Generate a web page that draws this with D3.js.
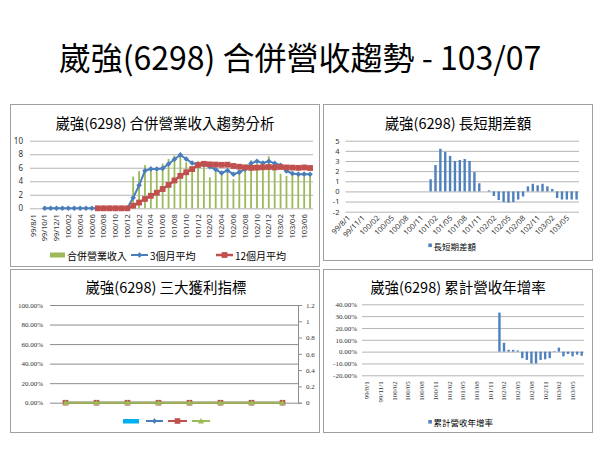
<!DOCTYPE html>
<html><head><meta charset="utf-8">
<script src="https://cdn.jsdelivr.net/npm/d3@7"></script>
<style>
body{margin:0;background:#fff;}
svg{display:block;}
text{font-family:"Noto Sans CJK TC","Noto Sans",sans-serif;}
</style></head><body>
<svg id="c" width="600" height="450"></svg>
<script>
// ---------- DATA ----------
const months = ["99/08","99/09","99/10","99/11","99/12",
 "100/01","100/02","100/03","100/04","100/05","100/06","100/07","100/08","100/09","100/10","100/11","100/12",
 "101/01","101/02","101/03","101/04","101/05","101/06","101/07","101/08","101/09","101/10","101/11","101/12",
 "102/01","102/02","102/03","102/04","102/05","102/06","102/07","102/08","102/09","102/10","102/11","102/12",
 "103/01","103/02","103/03","103/04","103/05","103/06","103/07"];

// top-left: 合併營業收入 / 3個月平均 / 12個月平均
const revenue = [0,0,0,0,0, 0,0,0,0,0,0,0,0,0,0,0,0,
 4.7,5.5,6.4,5.7,5.4,6.6,7.3,7.8,8.2,6.8,5.6,7.0,
 6.8,4.6,6.0,5.4,5.5,4.3,5.6,6.3,7.1,6.6,6.4,7.7,
 6.1,5.1,4.8,5.1,5.0,4.7,5.0];
const avg3 = [null,null,0,0,0, 0,0,0,0,0,0,0,0,0,0,0,0,
 1.57,3.40,5.55,5.83,5.80,5.90,6.55,7.25,7.90,7.30,6.70,6.45,
 6.50,6.15,5.75,5.22,5.60,5.03,5.35,5.80,6.65,6.97,6.70,6.97,
 6.65,6.37,5.53,5.15,5.05,5.05,5.03];
const avg12 = [null,null,null,null,null, null,null,null,null,null,null,0,0,0,0,0,0,
 0.39,0.85,1.38,1.85,2.30,2.85,3.46,4.12,4.80,5.33,5.80,6.41,
 6.58,6.50,6.47,6.43,6.45,6.26,6.15,6.06,5.98,6.02,6.07,6.11,
 6.04,6.11,6.05,6.02,5.98,6.04,5.96];
const tlTickAt = ["99/08","99/10","99/12","100/02","100/04","100/06","100/08","100/10","100/12",
 "101/02","101/04","101/06","101/08","101/10","101/12","102/02","102/04","102/06","102/08","102/10","102/12",
 "103/02","103/04","103/06"];
const tlTickLabels = ["99/8/1","99/10/1","99/12/1","100/02","100/04","100/06","100/08","100/10","100/12",
 "101/02","101/04","101/06","101/08","101/10","101/12","102/02","102/04","102/06","102/08","102/10","102/12",
 "103/02","103/04","103/06"];
const tlYTicks = [0,2,4,6,8,10];

// top-right: 長短期差額
const diff = [0,0,0,0,0, 0,0,0,0,0,0,0,0,0,0,0,0,
 1.2,2.6,4.2,3.9,3.5,3.0,3.1,3.2,3.0,1.9,0.8,0.0,
 0.1,-0.45,-0.85,-1.05,-1.1,-1.05,-0.8,-0.5,0.5,0.75,0.6,0.75,
 0.5,0.25,-0.65,-0.8,-0.8,-0.8,-0.8];
const qTickAt = ["99/08","99/11","100/02","100/05","100/08","100/11","101/02","101/05","101/08","101/11",
 "102/02","102/05","102/08","102/11","103/02","103/05"];
const qTickLabels = ["99/8/1","99/11/1","100/02","100/05","100/08","100/11","101/02","101/05","101/08","101/11",
 "102/02","102/05","102/08","102/11","103/02","103/05"];
const trYTicks = [-2,-1,0,1,2,3,4,5];

// bottom-right: 累計營收年增率 (%)
const cumYoY = [null,null,null,null,null, null,null,null,null,null,null,null,null,null,null,null,null,
 null,null,null,null,null,null,null,null,null,null,null,null,
 33,7.5,1.5,1.5,1.0,-5.5,-7,-10,-10,-7,-6.5,-5.5,
 0.5,3.4,-4,-2,-4,-2.5,-3.5];
const brYTicks = [-20,-10,0,10,20,30,40];

// bottom-left: 三大獲利指標
const blCats = ["1","2","3","4","5","6","7","8"];
const blBar = [0,0,0,0,0,0,0,0];
const blBlue = [0,0,0,0,0,0,0,0];
const blRed = [0,0,0,0,0,0,0,0];
const blGreen = [0,0,0,0,0,0,0,0];
const blLeftTicks = [0,0.2,0.4,0.6,0.8,1.0];
const blRightTicks = [0,0.2,0.4,0.6,0.8,1,1.2];

// ---------- DRAW ----------
const svg = d3.select("#c");
const BLUE="#4a7ebb", RED="#c0504d", GREEN="#9bbb59", BAR="#4f81bd";
const GRID="#b4b4b4";

// frames
[[10.5,104.5,309,162],[323.5,104.5,269,156],[10.5,269.5,309,163],[323.5,269.5,269,163]].forEach(r=>{
  svg.append("rect").attr("x",r[0]).attr("y",r[1]).attr("width",r[2]).attr("height",r[3])
    .attr("fill","none").attr("stroke","#a0a0a0").attr("stroke-width",1);
});

svg.append("text").attr("x",300).attr("y",56).attr("text-anchor","middle").attr("dominant-baseline","central")
  .attr("font-size",32).attr("fill","#000").text("崴強(6298) 合併營收趨勢 - 103/07");

function title(x,y,t){
  svg.append("text").attr("x",x).attr("y",y).attr("text-anchor","middle").attr("dominant-baseline","central")
    .attr("font-size",14.5).attr("fill","#000").text(t);
}
function diamond(g,x,y,r,c){ g.append("path").attr("d",`M${x},${y-r}L${x+r},${y}L${x},${y+r}L${x-r},${y}Z`).attr("fill",c); }
function square(g,x,y,r,c){ g.append("rect").attr("x",x-r).attr("y",y-r).attr("width",2*r).attr("height",2*r).attr("fill",c); }
function triangle(g,x,y,r,c){ g.append("path").attr("d",`M${x},${y-r}L${x+r},${y+r*0.8}L${x-r},${y+r*0.8}Z`).attr("fill",c); }

function gridAxis(g, scale, ticks, x0, x1, fmt, fsize, family, color, pad){
  const ax = d3.axisLeft(scale).tickValues(ticks).tickSize(-(x1-x0)).tickPadding(pad).tickFormat(fmt);
  const a = g.append("g").attr("transform",`translate(${x0},0)`).call(ax);
  a.select(".domain").remove();
  a.selectAll("line").attr("stroke",color).attr("stroke-width",1);
  a.selectAll("text").attr("font-size",fsize).attr("fill","#333").style("font-family",family);
  return a;
}

// ===== TOP-LEFT =====
(function(){
  title(165,122,"崴強(6298) 合併營業收入趨勢分析");
  const g = svg.append("g");
  const x = d3.scaleBand().domain(months).range([30,313]);
  const y = d3.scaleLinear().domain([0,10]).range([208.3,140.7]);
  const cx = m => x(m)+x.bandwidth()/2;
  gridAxis(g,y,tlYTicks,30,313,d=>d,8,"Noto Sans",GRID,7);
  const xa = g.append("g").attr("transform","translate(0,208.3)")
    .call(d3.axisBottom(x).tickValues(tlTickAt).tickSize(0).tickFormat((d,i)=>tlTickLabels[i]));
  xa.select(".domain").remove();
  xa.selectAll("text").attr("transform","rotate(-90)").attr("x",-6).attr("y",0).attr("dy","0.35em")
    .style("text-anchor","end").attr("font-size",7.5).attr("fill","#333").style("font-family","Noto Sans");
  // bars
  g.selectAll(".rb").data(months.map((m,i)=>({m,v:revenue[i]})).filter(d=>d.v>0)).enter().append("rect")
    .attr("x",d=>cx(d.m)-0.9).attr("width",1.8).attr("y",d=>y(d.v)).attr("height",d=>y(0)-y(d.v)).attr("fill",GREEN);
  // 3-month
  const p3 = months.map((m,i)=>({m,v:avg3[i]})).filter(d=>d.v!=null);
  g.append("path").datum(p3).attr("d",d3.line().x(d=>cx(d.m)).y(d=>y(d.v)))
    .attr("fill","none").attr("stroke",BLUE).attr("stroke-width",2);
  p3.forEach(d=>diamond(g,cx(d.m),y(d.v),2.8,BLUE));
  // 12-month
  const p12 = months.map((m,i)=>({m,v:avg12[i]})).filter(d=>d.v!=null);
  g.append("path").datum(p12).attr("d",d3.line().x(d=>cx(d.m)).y(d=>y(d.v)))
    .attr("fill","none").attr("stroke",RED).attr("stroke-width",2.5);
  p12.forEach(d=>square(g,cx(d.m),y(d.v),2.9,RED));
  // legend
  const ly=255;
  g.append("rect").attr("x",50).attr("y",ly-2.5).attr("width",15).attr("height",5).attr("fill",GREEN);
  g.append("text").attr("x",67).attr("y",ly).attr("dominant-baseline","central").attr("font-size",10).text("合併營業收入");
  g.append("line").attr("x1",131).attr("x2",148).attr("y1",ly).attr("y2",ly).attr("stroke",BLUE).attr("stroke-width",2);
  diamond(g,139.5,ly,2.8,BLUE);
  g.append("text").attr("x",150).attr("y",ly).attr("dominant-baseline","central").attr("font-size",10).text("3個月平均");
  g.append("line").attr("x1",216).attr("x2",233).attr("y1",ly).attr("y2",ly).attr("stroke",RED).attr("stroke-width",2.5);
  square(g,224.5,ly,2.9,RED);
  g.append("text").attr("x",235).attr("y",ly).attr("dominant-baseline","central").attr("font-size",10).text("12個月平均");
})();

// ===== TOP-RIGHT =====
(function(){
  title(458,122,"崴強(6298) 長短期差額");
  const g = svg.append("g");
  const x = d3.scaleBand().domain(months).range([345.5,579]);
  const y = d3.scaleLinear().domain([-2,5]).range([211.7,140.7]);
  const cx = m => x(m)+x.bandwidth()/2;
  gridAxis(g,y,trYTicks,345.5,579,d=>d,7.5,"Noto Sans",GRID,6);
  const xa = g.append("g").attr("transform","translate(0,211.7)")
    .call(d3.axisBottom(x).tickValues(qTickAt).tickSize(0).tickFormat((d,i)=>qTickLabels[i]));
  xa.select(".domain").remove();
  xa.selectAll("text").attr("transform","translate(1,5) rotate(-45)").attr("x",0).attr("y",0).attr("dy","0.35em")
    .style("text-anchor","end").attr("font-size",7.5).attr("fill","#333").style("font-family","Noto Sans");
  g.selectAll(".db").data(months.map((m,i)=>({m,v:diff[i]})).filter(d=>d.v!==0)).enter().append("rect")
    .attr("x",d=>cx(d.m)-1.2).attr("width",2.4)
    .attr("y",d=>Math.min(y(d.v),y(0))).attr("height",d=>Math.abs(y(0)-y(d.v))).attr("fill",BAR);
  g.append("rect").attr("x",428.3).attr("y",243.5).attr("width",3.6).attr("height",3.6).attr("fill",BAR);
  g.append("text").attr("x",433.5).attr("y",245.5).attr("dominant-baseline","central").attr("font-size",8.5).text("長短期差額");
})();

// ===== BOTTOM-LEFT =====
(function(){
  title(166,286,"崴強(6298) 三大獲利指標");
  const g = svg.append("g");
  const x = d3.scaleBand().domain(blCats).range([50,298]);
  const yl = d3.scaleLinear().domain([0,1]).range([402.7,305]);
  const yr = d3.scaleLinear().domain([0,1.2]).range([402.7,305]);
  const cx = c => x(c)+x.bandwidth()/2;
  gridAxis(g,yl,blLeftTicks,50,298,d3.format(".2%"),7,"Liberation Serif","#8c8c8c",7);
  const ra = g.append("g").attr("transform","translate(298,0)")
    .call(d3.axisRight(yr).tickValues(blRightTicks).tickSize(4).tickPadding(4).tickFormat(d=>d));
  ra.select(".domain").attr("stroke","#8c8c8c");
  ra.selectAll("line").attr("stroke","#8c8c8c");
  ra.selectAll("text").attr("font-size",7).attr("fill","#333").style("font-family","Liberation Serif");
  // bar series (zero)
  g.selectAll(".bb").data(blCats.map((c,i)=>({c,v:blBar[i]}))).enter().append("rect")
    .attr("x",d=>cx(d.c)-6).attr("width",12).attr("y",d=>yl(d.v)).attr("height",d=>yl(0)-yl(d.v)).attr("fill","#00b0f0");
  const series = [[blBlue,BLUE,diamond,2.8,2],[blRed,RED,square,2.8,2],[blGreen,GREEN,triangle,3,2]];
  series.forEach(([vals,col,mk,r,w])=>{
    const pts = blCats.map((c,i)=>({c,v:vals[i]}));
    g.append("path").datum(pts).attr("d",d3.line().x(d=>cx(d.c)).y(d=>yr(d.v)))
      .attr("fill","none").attr("stroke",col).attr("stroke-width",w);
    pts.forEach(d=>mk(g,cx(d.c),yr(d.v),r,col));
  });
  const ly=421;
  g.append("rect").attr("x",123).attr("y",ly-2).attr("width",16).attr("height",4.5).attr("fill","#00b0f0");
  g.append("line").attr("x1",146).attr("x2",163).attr("y1",ly).attr("y2",ly).attr("stroke",BLUE).attr("stroke-width",2);
  diamond(g,154.5,ly,2.8,BLUE);
  g.append("line").attr("x1",168).attr("x2",187).attr("y1",ly).attr("y2",ly).attr("stroke",RED).attr("stroke-width",2);
  square(g,177.5,ly,2.8,RED);
  g.append("line").attr("x1",192).attr("x2",210).attr("y1",ly).attr("y2",ly).attr("stroke",GREEN).attr("stroke-width",2);
  triangle(g,201,ly,3,GREEN);
})();

// ===== BOTTOM-RIGHT =====
(function(){
  title(458,286,"崴強(6298) 累計營收年增率");
  const g = svg.append("g");
  const x = d3.scaleBand().domain(months).range([364.6,584]);
  const y = d3.scaleLinear().domain([-20,40]).range([375.3,304.3]);
  const cx = m => x(m)+x.bandwidth()/2;
  gridAxis(g,y,brYTicks,362,584,d=>d.toFixed(2)+"%",7,"Liberation Serif",GRID,5);
  const xa = g.append("g").attr("transform","translate(0,375.3)")
    .call(d3.axisBottom(x).tickValues(qTickAt).tickSize(0).tickFormat((d,i)=>qTickLabels[i]));
  xa.select(".domain").remove();
  xa.selectAll("text").attr("transform","rotate(-90)").attr("x",-6).attr("y",0).attr("dy","0.35em")
    .style("text-anchor","end").attr("font-size",7).attr("fill","#333").style("font-family","Liberation Serif");
  g.selectAll(".yb").data(months.map((m,i)=>({m,v:cumYoY[i]})).filter(d=>d.v!=null)).enter().append("rect")
    .attr("x",d=>cx(d.m)-1.2).attr("width",2.4)
    .attr("y",d=>Math.min(y(d.v),y(0))).attr("height",d=>Math.abs(y(0)-y(d.v))).attr("fill",BAR);
  g.append("rect").attr("x",428.3).attr("y",420).attr("width",3.6).attr("height",3.6).attr("fill",BAR);
  g.append("text").attr("x",433.5).attr("y",422).attr("dominant-baseline","central").attr("font-size",8.5).text("累計營收年增率");
})();
</script>
</body></html>
